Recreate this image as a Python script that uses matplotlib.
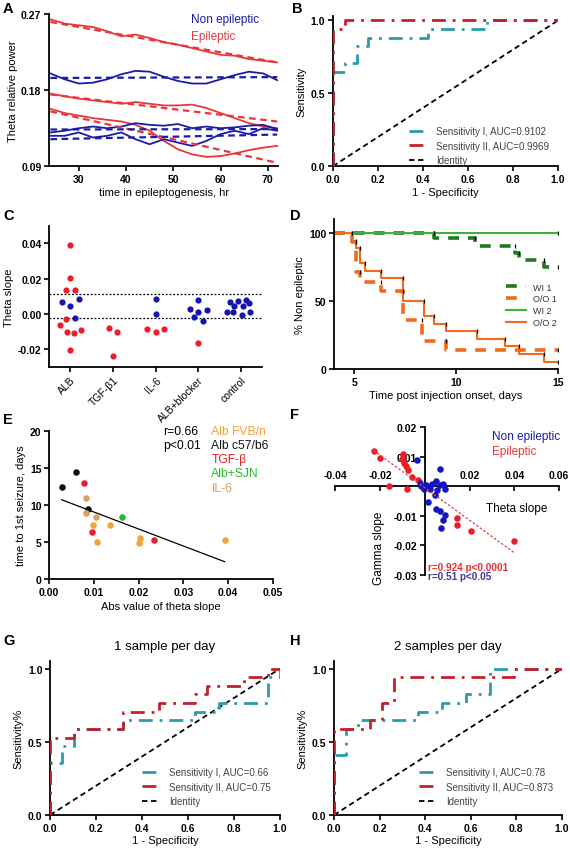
import matplotlib
matplotlib.use('Agg')
import matplotlib.pyplot as plt

plt.rcParams['font.family'] = ['Liberation Sans', 'DejaVu Sans']

BLUE = '#1c1caa'
RED = '#e8373c'
TEAL = '#2a9cac'
DARKRED = '#c4202a'

# ---------- A: theta relative power ----------
hours = [24, 27, 30, 33, 36, 39, 42, 45, 48, 51, 54, 57, 60, 63, 66, 69, 72]
epi_1 = [0.264, 0.259, 0.257, 0.255, 0.250, 0.244, 0.246, 0.242, 0.237, 0.234,
         0.230, 0.226, 0.222, 0.221, 0.217, 0.215, 0.213]
epi_2 = [0.176, 0.173, 0.170, 0.168, 0.166, 0.164, 0.166, 0.164, 0.162, 0.162,
         0.163, 0.159, 0.153, 0.147, 0.141, 0.137, 0.135]
epi_3 = [0.158, 0.153, 0.150, 0.147, 0.145, 0.143, 0.139, 0.132, 0.120, 0.110,
         0.104, 0.101, 0.102, 0.105, 0.109, 0.112, 0.114]
non_1 = [0.200, 0.193, 0.188, 0.189, 0.193, 0.199, 0.203, 0.202, 0.196, 0.191,
         0.188, 0.188, 0.193, 0.198, 0.202, 0.200, 0.192]
non_2 = [0.130, 0.132, 0.135, 0.137, 0.135, 0.137, 0.141, 0.139, 0.138, 0.140,
         0.135, 0.137, 0.135, 0.136, 0.138, 0.139, 0.134]
non_3 = [0.126, 0.126, 0.130, 0.124, 0.126, 0.130, 0.122, 0.116, 0.122, 0.118,
         0.114, 0.120, 0.128, 0.132, 0.128, 0.135, 0.132]
fit_hours = [24, 72]
epi_fits = [[0.261, 0.213], [0.175, 0.143], [0.155, 0.094]]
non_fits = [[0.1946, 0.1956], [0.1335, 0.1340], [0.122, 0.1275]]

# ---------- B: ROC ----------
b_fpr_1 = [0, 0, 0.053, 0.053, 0.105, 0.105, 0.158, 0.158, 0.421, 0.421, 0.684, 0.684, 1.0]
b_tpr_1 = [0, 0.647, 0.647, 0.706, 0.706, 0.824, 0.824, 0.882, 0.882, 0.941, 0.941, 1.0, 1.0]
b_fpr_2 = [0, 0, 0.053, 0.053, 1.0]
b_tpr_2 = [0, 0.941, 0.941, 1.0, 1.0]

# ---------- C: theta slope by group ----------
groups = ['ALB', 'TGF-β1', 'IL-6', 'ALB+blocker', 'control']
c_red_group = [0, 0, 0, 0, 0, 0, 0, 0, 0, 0, 1, 1, 1, 2, 2, 2, 3]
c_red_offset = [0, 0, -0.1, 0.1, -0.1, -0.24, -0.09, 0.09, 0.25, 0, -0.1, 0.1, 0, -0.2, 0, 0.2, 0]
c_red_val = [0.039, 0.0202, 0.0137, 0.0137, -0.003, -0.0065, -0.0103, -0.011, -0.009, -0.0208,
             -0.0082, -0.0101, -0.0242, -0.0086, -0.0105, -0.0086, -0.0166]
c_blue_group = [0, 0, 0, 0, 2, 2, 3, 3, 3, 3, 3, 3, 4, 4, 4, 4, 4, 4, 4, 4, 4, 4]
c_blue_offset = [-0.2, 0.2, 0, 0.1, 0, 0, -0.2, 0, 0, 0.2, -0.1, 0.1,
                 -0.33, -0.25, -0.07, 0.13, 0.18, -0.17, 0.04, -0.19, 0.22, 0.03]
c_blue_val = [0.0069, 0.0084, 0.0042, -0.0023, 0.0082, 0.0, 0.0029, 0.0076, 0.0013, 0.0021, -0.0017, -0.004,
              0.0011, 0.0067, 0.0072, 0.0078, 0.0063, 0.0044, 0.0044, 0.0011, 0.0011, -0.0004]
c_band = [0.0113, -0.0026]

# ---------- D: survival ----------
wi1_t = [4, 8.9, 10.9, 12.9, 13.1, 14.3, 15]
wi1_v = [100, 96, 90, 85, 80, 75, 75]
oo1_t = [4, 4.9, 5.1, 5.3, 6.3, 7.4, 8.3, 9.5, 15]
oo1_v = [100, 93, 71, 64, 57, 36, 21, 14, 14]
wi2_t = [4, 15]
wi2_v = [100, 100]
oo2_t = [4, 4.9, 5.1, 5.3, 5.5, 6.3, 7.4, 8.4, 8.9, 9.5, 11.0, 12.4, 13.1, 14.3, 15]
oo2_v = [100, 94, 89, 78, 72, 67, 50, 39, 33, 28, 22, 17, 11, 5.5, 5.5]

# ---------- E: time to first seizure ----------
e_groups = ['Alb FVB/n', 'Alb c57/b6', 'TGF-β', 'Alb+SJN', 'IL-6']
e_colors = ['#f5a23a', '#111111', '#e8202a', '#22bb33', '#d9a060']
e_x = [[0.0099, 0.0107, 0.0137, 0.0203, 0.0201, 0.0392],
       [0.0028, 0.0061, 0.0086],
       [0.0078, 0.0097, 0.0235],
       [0.0162],
       [0.0082, 0.0082, 0.0104]]
e_y = [[7.3, 5.0, 7.3, 5.5, 4.85, 5.2],
       [12.4, 14.4, 9.5],
       [13.0, 6.3, 5.2],
       [8.4],
       [10.9, 8.9, 8.3]]
e_fit_slope, e_fit_intercept = -229.4, 11.33

# ---------- F: gamma vs theta slope ----------
f_red_x = [-0.0228, -0.0198, -0.0158, -0.0097, -0.0100, -0.0094, -0.0085, -0.0073, -0.0055,
           -0.0030, -0.0079, 0.0144, 0.0144, 0.0205, 0.0397]
f_red_y = [0.0119, 0.0097, 0.0, 0.0108, 0.0093, 0.0080, 0.0069, 0.0055, 0.0031,
           0.0020, -0.0008, -0.0107, -0.0131, -0.0152, -0.0185]
f_blue_x = [-0.0033, 0.0070, 0.0052, 0.0082, 0.0089, 0.0045, 0.0052, 0.0070, 0.0089, 0.0082,
            0.0074, 0.0015, -0.0015, -0.0004, 0.0007, 0.0022, -0.0022, 0.0034, 0.0055, 0.0070]
f_blue_y = [0.0088, 0.0057, 0.0018, 0.0006, -0.0010, -0.0030, -0.0078, -0.0084, -0.0096, -0.0115,
            -0.0140, -0.0053, 0.0001, -0.0008, 0.0003, -0.0008, 0.0012, 0.0008, -0.0013, 0.0003]
f_fit_slope, f_fit_intercept = -0.55, -0.0005

# ---------- G / H: ROC ----------
g_fpr_1 = [0, 0, 0.053, 0.053, 0.105, 0.105, 0.316, 0.316, 0.632, 0.632, 0.737, 0.737, 0.947, 0.947, 1.0, 1.0]
g_tpr_1 = [0, 0.353, 0.353, 0.47, 0.47, 0.588, 0.588, 0.647, 0.647, 0.706, 0.706, 0.765, 0.765, 0.941, 0.941, 1.0]
g_fpr_2 = [0, 0, 0.105, 0.105, 0.316, 0.316, 0.474, 0.474, 0.632, 0.632, 0.684, 0.684, 0.842, 0.842, 0.947, 0.947, 1.0]
g_tpr_2 = [0, 0.529, 0.529, 0.588, 0.588, 0.706, 0.706, 0.765, 0.765, 0.824, 0.824, 0.882, 0.882, 0.941, 0.941, 1.0, 1.0]
h_fpr_1 = [0, 0, 0.053, 0.053, 0.105, 0.105, 0.368, 0.368, 0.474, 0.474, 0.579, 0.579, 0.684, 0.684, 1.0]
h_tpr_1 = [0, 0.412, 0.412, 0.588, 0.588, 0.647, 0.647, 0.706, 0.706, 0.765, 0.765, 0.824, 0.824, 1.0, 1.0]
h_fpr_2 = [0, 0, 0.158, 0.158, 0.211, 0.211, 0.263, 0.263, 0.789, 0.789, 1.0]
h_tpr_2 = [0, 0.588, 0.588, 0.647, 0.647, 0.765, 0.765, 0.941, 0.941, 1.0, 1.0]


def style_axes(ax, bold=True):
    for s in ['top', 'right']:
        ax.spines[s].set_visible(False)
    for s in ['left', 'bottom']:
        ax.spines[s].set_linewidth(1.3)
    ax.tick_params(width=1.2, length=3.5, labelsize=7.5, pad=2)
    if bold:
        for lab in ax.get_xticklabels() + ax.get_yticklabels():
            lab.set_fontweight('bold')


def panel_letter(fig, x, y, letter):
    fig.text(x / 570, 1 - y / 853, letter, fontsize=10.5, fontweight='bold', va='center', ha='left')


def roc_panel(ax, fpr1, tpr1, fpr2, tpr2, lab1, lab2, ylabel, ytop, leg_y):
    ax.plot([0, 1], [0, 1], color='black', lw=1.3, ls=(0, (3, 2)), label='Identity', zorder=2)
    ax.plot(fpr1, tpr1, color=TEAL, lw=2, ls=(0, (5, 2.5, 1, 2.5)), label=lab1, zorder=3)
    ax.plot(fpr2, tpr2, color=DARKRED, lw=2, ls=(0, (5, 2.5, 1, 2.5)), label=lab2, zorder=4)
    ax.set_xlim(0, 1)
    ax.set_ylim(0, ytop)
    ax.set_xticks([0, 0.2, 0.4, 0.6, 0.8, 1.0])
    ax.set_yticks([0, 0.5, 1.0])
    ax.set_xticklabels(['0.0', '0.2', '0.4', '0.6', '0.8', '1.0'])
    ax.set_yticklabels(['0.0', '0.5', '1.0'])
    ax.set_xlabel('1 - Specificity', fontsize=8, labelpad=2)
    ax.set_ylabel(ylabel, fontsize=8, labelpad=3)
    h, l = ax.get_legend_handles_labels()
    leg = ax.legend([h[1], h[2], h[0]], [l[1], l[2], l[0]], loc='lower right', bbox_to_anchor=(1.0, leg_y),
                    frameon=False, fontsize=7, handlelength=1.8, labelspacing=0.45, handletextpad=1.0)
    for t in leg.get_texts():
        t.set_color('#444444')
    style_axes(ax)


def km_curve(ax, t, v, color, lw, ls, label):
    ax.step(t, v, where='post', color=color, lw=lw, ls=ls, label=label)
    # small black censor marks at each step
    ax.plot(t[1:], v[:-1], ls='none', marker='|', ms=3.5, mew=0.9, color='black', zorder=5)


fig = plt.figure(figsize=(5.7, 8.53), dpi=100)

# ---- A ----
ax = fig.add_axes([0.086, 0.804, 0.402, 0.178])
for ys in [epi_1, epi_2, epi_3]:
    ax.plot(hours, ys, color=RED, lw=1.3)
for ys in [non_1, non_2, non_3]:
    ax.plot(hours, ys, color=BLUE, lw=1.3)
for f in epi_fits:
    ax.plot(fit_hours, f, color=RED, lw=1.6, ls=(0, (3, 2)))
for f in non_fits:
    ax.plot(fit_hours, f, color=BLUE, lw=1.6, ls=(0, (3, 2)))
ax.set_xlim(23.7, 72.2)
ax.set_ylim(0.09, 0.27)
ax.set_xticks([30, 40, 50, 60, 70])
ax.set_yticks([0.09, 0.18, 0.27])
ax.set_yticklabels(['0.09', '0.18', '0.27'])
ax.set_xlabel('time in epileptogenesis, hr', fontsize=8, labelpad=2)
ax.set_ylabel('Theta relative power', fontsize=8, labelpad=2)
ax.text(0.62, 0.97, 'Non epileptic', color=BLUE, fontsize=8.5, transform=ax.transAxes, va='center')
ax.text(0.62, 0.86, 'Epileptic', color=RED, fontsize=8.5, transform=ax.transAxes, va='center')
style_axes(ax)
panel_letter(fig, 3, 9, 'A')

# ---- B ----
ax = fig.add_axes([0.584, 0.804, 0.395, 0.176])
roc_panel(ax, b_fpr_1, b_tpr_1, b_fpr_2, b_tpr_2, 'Sensitivity I, AUC=0.9102',
          'Sensitivity II, AUC=0.9969', 'Sensitivity', 1.03, -0.05)
panel_letter(fig, 292, 9, 'B')

# ---- C ----
ax = fig.add_axes([0.086, 0.569, 0.374, 0.165])
for yv in c_band:
    ax.axhline(yv, color='black', lw=0.9, ls=(0, (1.5, 1.5)), zorder=1)
ax.scatter([g + o for g, o in zip(c_red_group, c_red_offset)], c_red_val, s=20, color='#ee1c24', zorder=3, lw=0)
ax.scatter([g + o for g, o in zip(c_blue_group, c_blue_offset)], c_blue_val, s=20, color='#1414b0', zorder=3, lw=0)
ax.set_xlim(-0.5, 4.5)
ax.set_ylim(-0.03, 0.05)
ax.set_xticks(range(len(groups)))
ax.set_xticklabels(groups, rotation=45, ha='right', rotation_mode='anchor', fontsize=7.5)
ax.set_yticks([-0.02, 0.0, 0.02, 0.04])
ax.set_yticklabels(['-0.02', '0.00', '0.02', '0.04'])
ax.set_ylabel('Theta slope', fontsize=8, labelpad=3)
style_axes(ax, bold=False)
for lab in ax.get_yticklabels():
    lab.set_fontweight('bold')
panel_letter(fig, 3, 216, 'C')

# ---- D ----
ax = fig.add_axes([0.586, 0.566, 0.393, 0.176])
km_curve(ax, wi1_t, wi1_v, '#1f7a1f', 2.6, (0, (3, 2.5)), 'WI 1')
km_curve(ax, oo1_t, oo1_v, '#f26a1b', 2.6, (0, (3, 2.5)), 'O/O 1')
km_curve(ax, wi2_t, wi2_v, '#3cb43c', 1.5, '-', 'WI 2')
km_curve(ax, oo2_t, oo2_v, '#f26a1b', 1.5, '-', 'O/O 2')
ax.set_xlim(4, 15)
ax.set_ylim(0, 110)
ax.set_xticks([5, 10, 15])
ax.set_yticks([0, 50, 100])
ax.set_xlabel('Time post injection onset, days', fontsize=8, labelpad=2)
ax.set_ylabel('% Non epileptic', fontsize=8, labelpad=3)
leg = ax.legend(loc='center right', bbox_to_anchor=(1.03, 0.43), frameon=False, fontsize=6.5,
                handlelength=2.2, labelspacing=0.3, handletextpad=0.8)
for t in leg.get_texts():
    t.set_color('#333333')
style_axes(ax)
panel_letter(fig, 290, 216, 'D')

# ---- E ----
ax = fig.add_axes([0.086, 0.320, 0.393, 0.174])
for xs, ys, c in zip(e_x, e_y, e_colors):
    ax.scatter(xs, ys, s=22, color=c, lw=0, zorder=3)
all_x = [v for xs in e_x for v in xs]
fx = [min(all_x), max(all_x)]
ax.plot(fx, [e_fit_slope * v + e_fit_intercept for v in fx], color='black', lw=0.9, zorder=2)
ax.set_xlim(0, 0.05)
ax.set_ylim(0, 20)
ax.set_xticks([0, 0.01, 0.02, 0.03, 0.04, 0.05])
ax.set_xticklabels(['0.00', '0.01', '0.02', '0.03', '0.04', '0.05'])
ax.set_yticks([0, 5, 10, 15, 20])
ax.set_xlabel('Abs value of theta slope', fontsize=8, labelpad=3)
ax.set_ylabel('time to 1st seizure, days', fontsize=8, labelpad=3)
ax.text(0.51, 1.0, 'r=0.66', fontsize=8.7, transform=ax.transAxes, va='center')
ax.text(0.51, 0.905, 'p<0.01', fontsize=8.7, transform=ax.transAxes, va='center')
for i, (name, c) in enumerate(zip(e_groups, e_colors)):
    ax.text(0.725, 1.0 - i * 0.096, name, color=c, fontsize=8.7, transform=ax.transAxes, va='center')
style_axes(ax)
panel_letter(fig, 3, 420, 'E')

# ---- F ----
ax = fig.add_axes([0.588, 0.3247, 0.393, 0.1735])
ax.scatter(f_red_x, f_red_y, s=22, color='#ee1c24', lw=0, zorder=3)
ax.scatter(f_blue_x, f_blue_y, s=22, color='#1414c0', lw=0, zorder=3)
rx = [min(f_red_x), max(f_red_x)]
ax.plot(rx, [f_fit_slope * v + f_fit_intercept for v in rx], color='#e0404a', lw=0.9,
        ls=(0, (2, 1.5)), zorder=4)
ax.spines['left'].set_position(('data', 0))
ax.spines['bottom'].set_position(('data', 0))
ax.set_xlim(-0.04, 0.06)
ax.set_ylim(-0.03, 0.02)
ax.set_xticks([-0.04, -0.02, 0.02, 0.04, 0.06])
ax.set_xticklabels(['-0.04', '-0.02', '0.02', '0.04', '0.06'])
ax.set_yticks([-0.03, -0.02, -0.01, 0.01, 0.02])
ax.set_yticklabels(['-0.03', '-0.02', '-0.01', '0.01', '0.02'])
style_axes(ax)
ax.tick_params(axis='x', pad=-15)
ax.text(0.81, 0.45, 'Theta slope', fontsize=8.5, transform=ax.transAxes, ha='center', va='center')
ax.text(0.195, 0.19, 'Gamma slope', fontsize=8.5, rotation=90, transform=ax.transAxes, ha='center', va='center')
ax.text(0.415, 0.055, 'r=0.924 p<0.0001', color='#e8303a', fontsize=7.2, fontweight='bold',
        transform=ax.transAxes, va='center')
ax.text(0.415, -0.005, 'r=0.51 p<0.05', color='#3a3aa0', fontsize=7.2, fontweight='bold',
        transform=ax.transAxes, va='center')
ax.text(0.70, 0.94, 'Non epileptic', color=BLUE, fontsize=8.5, transform=ax.transAxes, va='center')
ax.text(0.70, 0.84, 'Epileptic', color=RED, fontsize=8.5, transform=ax.transAxes, va='center')
panel_letter(fig, 290, 415, 'F')

# ---- G ----
ax = fig.add_axes([0.088, 0.0434, 0.403, 0.180])
roc_panel(ax, g_fpr_1, g_tpr_1, g_fpr_2, g_tpr_2, 'Sensitivity I, AUC=0.66',
          'Sensitivity II, AUC=0.75', 'Sensitivity%', 1.05, 0.0)
ax.set_title('1 sample per day', fontsize=9.5, pad=9)
panel_letter(fig, 3, 641, 'G')

# ---- H ----
ax = fig.add_axes([0.586, 0.0434, 0.400, 0.180])
roc_panel(ax, h_fpr_1, h_tpr_1, h_fpr_2, h_tpr_2, 'Sensitivity I, AUC=0.78',
          'Sensitivity II, AUC=0.873', 'Sensitivity%', 1.05, 0.0)
ax.set_title('2 samples per day', fontsize=9.5, pad=9)
panel_letter(fig, 290, 641, 'H')

fig.savefig('out.png', dpi=100)
